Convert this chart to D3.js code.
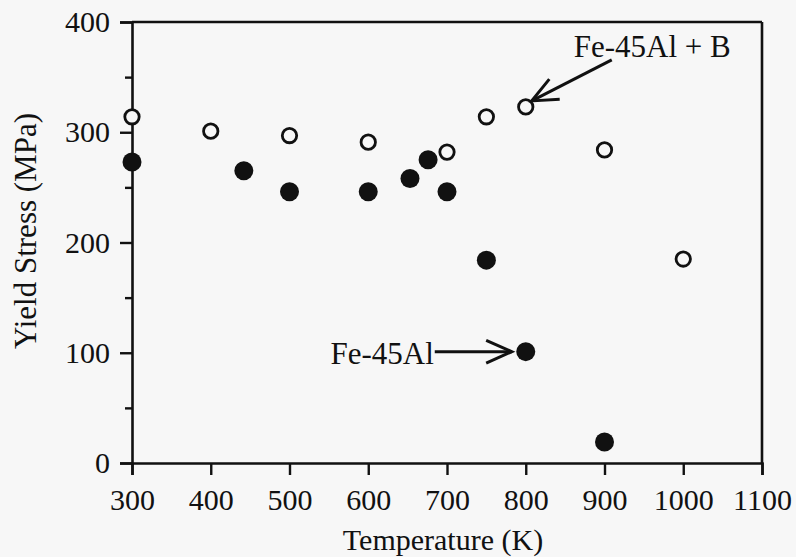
<!DOCTYPE html>
<html>
<head>
<meta charset="utf-8">
<script src="https://cdn.jsdelivr.net/npm/d3@7"></script>
<style>
  html, body { margin: 0; padding: 0; background: #f7f7f7; }
  svg { display: block; }
  text { font-family: 'Liberation Serif', 'Times New Roman', Times, Tinos, 'Nimbus Roman', 'DejaVu Serif', 'Noto Serif', serif; fill: #111; }
</style>
</head>
<body>
<div id="chart"></div>
<script>
// Yield stress vs temperature, Fe-45Al with and without boron

var boronTemps  = [300, 400, 500, 600, 700, 750, 800, 900, 1000];
var boronStress = [314, 301, 297, 291, 282, 314, 323, 284, 185];

var plainTemps  = [300, 442, 500, 600, 653, 676, 700, 750, 800, 900];
var plainStress = [273, 265, 246, 246, 258, 275, 246, 184, 101, 19];

var xTicks = [300, 400, 500, 600, 700, 800, 900, 1000, 1100];
var yTicks = [0, 100, 200, 300, 400];
var yMinor = [50, 150, 250, 350];

var W = 796, H = 557;
var margin = { top: 22, right: 34, bottom: 94, left: 132 };
var iw = W - margin.left - margin.right;
var ih = H - margin.top - margin.bottom;

var svg = d3.select('#chart').append('svg')
  .attr('width', W)
  .attr('height', H);

svg.append('rect').attr('width', W).attr('height', H).attr('fill', '#f7f7f7');

var g = svg.append('g')
  .attr('transform', 'translate(' + margin.left + ',' + margin.top + ')');

var x = d3.scaleLinear().domain([300, 1100]).range([0, iw]);
var y = d3.scaleLinear().domain([0, 400]).range([ih, 0]);

// frame (top and right lines, no ticks)
g.append('line').attr('x1', 0).attr('x2', iw).attr('y1', 0).attr('y2', 0)
  .attr('stroke', '#111').attr('stroke-width', 2.6);
g.append('line').attr('x1', iw).attr('x2', iw).attr('y1', 0).attr('y2', ih)
  .attr('stroke', '#111').attr('stroke-width', 2.6);

// x axis
var xAxis = g.append('g')
  .attr('transform', 'translate(0,' + ih + ')')
  .call(d3.axisBottom(x).tickValues(xTicks).tickSize(12).tickPadding(14).tickFormat(d3.format('d')));
xAxis.attr('font-family', null);
xAxis.select('.domain').attr('stroke', '#111').attr('stroke-width', 2.6);
xAxis.selectAll('.tick line').attr('stroke', '#111').attr('stroke-width', 2.4);
xAxis.selectAll('text')
  .attr('font-size', '30px')
  .attr('fill', '#111');

// y axis, minor ticks first
var yMinorAxis = g.append('g')
  .call(d3.axisLeft(y).tickValues(yMinor).tickSize(7).tickFormat(''));
yMinorAxis.select('.domain').remove();
yMinorAxis.selectAll('.tick line').attr('stroke', '#111').attr('stroke-width', 2.4);

var yAxis = g.append('g')
  .call(d3.axisLeft(y).tickValues(yTicks).tickSize(12).tickPadding(10).tickFormat(d3.format('d')));
yAxis.attr('font-family', null);
yAxis.select('.domain').attr('stroke', '#111').attr('stroke-width', 2.6);
yAxis.selectAll('.tick line').attr('stroke', '#111').attr('stroke-width', 2.4);
yAxis.selectAll('text')
  .attr('font-size', '30px')
  .attr('fill', '#111');

// axis titles
svg.append('text')
  .attr('x', margin.left + iw / 2 - 4)
  .attr('y', 550)
  .attr('text-anchor', 'middle')
  .attr('font-size', '30px')
  .text('Temperature (K)');

svg.append('text')
  .attr('transform', 'translate(36,' + 231 + ') rotate(-90)')
  .attr('text-anchor', 'middle')
  .attr('font-size', '31px')
  .text('Yield Stress (MPa)');

// points
var plain = plainTemps.map(function(t, i) { return { t: t, s: plainStress[i] }; });
var boron = boronTemps.map(function(t, i) { return { t: t, s: boronStress[i] }; });

g.append('g').selectAll('circle')
  .data(plain)
  .enter().append('circle')
  .attr('cx', function(d) { return x(d.t); })
  .attr('cy', function(d) { return y(d.s); })
  .attr('r', 9.5)
  .attr('fill', '#111');

g.append('g').selectAll('circle')
  .data(boron)
  .enter().append('circle')
  .attr('cx', function(d) { return x(d.t); })
  .attr('cy', function(d) { return y(d.s); })
  .attr('r', 7.2)
  .attr('fill', '#f7f7f7')
  .attr('stroke', '#111')
  .attr('stroke-width', 2.8);

// annotations: open-V arrows
function arrow(x1, y1, x2, y2) {
  var ang = Math.atan2(y1 - y2, x1 - x2);
  var len = 28, spread = 24 * Math.PI / 180;
  g.append('line')
    .attr('x1', x1).attr('y1', y1).attr('x2', x2).attr('y2', y2)
    .attr('stroke', '#111').attr('stroke-width', 3);
  g.append('path')
    .attr('d', 'M' + (x2 + len * Math.cos(ang + spread)) + ',' + (y2 + len * Math.sin(ang + spread)) +
      'L' + x2 + ',' + y2 +
      'L' + (x2 + len * Math.cos(ang - spread)) + ',' + (y2 + len * Math.sin(ang - spread)))
    .attr('fill', 'none').attr('stroke', '#111').attr('stroke-width', 3)
    .attr('stroke-linejoin', 'miter');
}

// Fe-45Al -> point at 800 K
var pA = plain[8];
arrow(x(pA.t) - 91, y(pA.s), x(pA.t) - 14, y(pA.s));
g.append('text')
  .attr('x', x(pA.t) - 92)
  .attr('y', y(pA.s) + 12)
  .attr('text-anchor', 'end')
  .attr('font-size', '31px')
  .text('Fe-45Al');

// Fe-45Al + B -> point at 800 K
var pB = boron[6];
arrow(x(pB.t) + 86, y(pB.s) - 47, x(pB.t) + 6, y(pB.s) - 6);
g.append('text')
  .attr('x', x(pB.t) + 48)
  .attr('y', y(pB.s) - 50)
  .attr('font-size', '31px')
  .text('Fe-45Al + B');
</script>
</body>
</html>
